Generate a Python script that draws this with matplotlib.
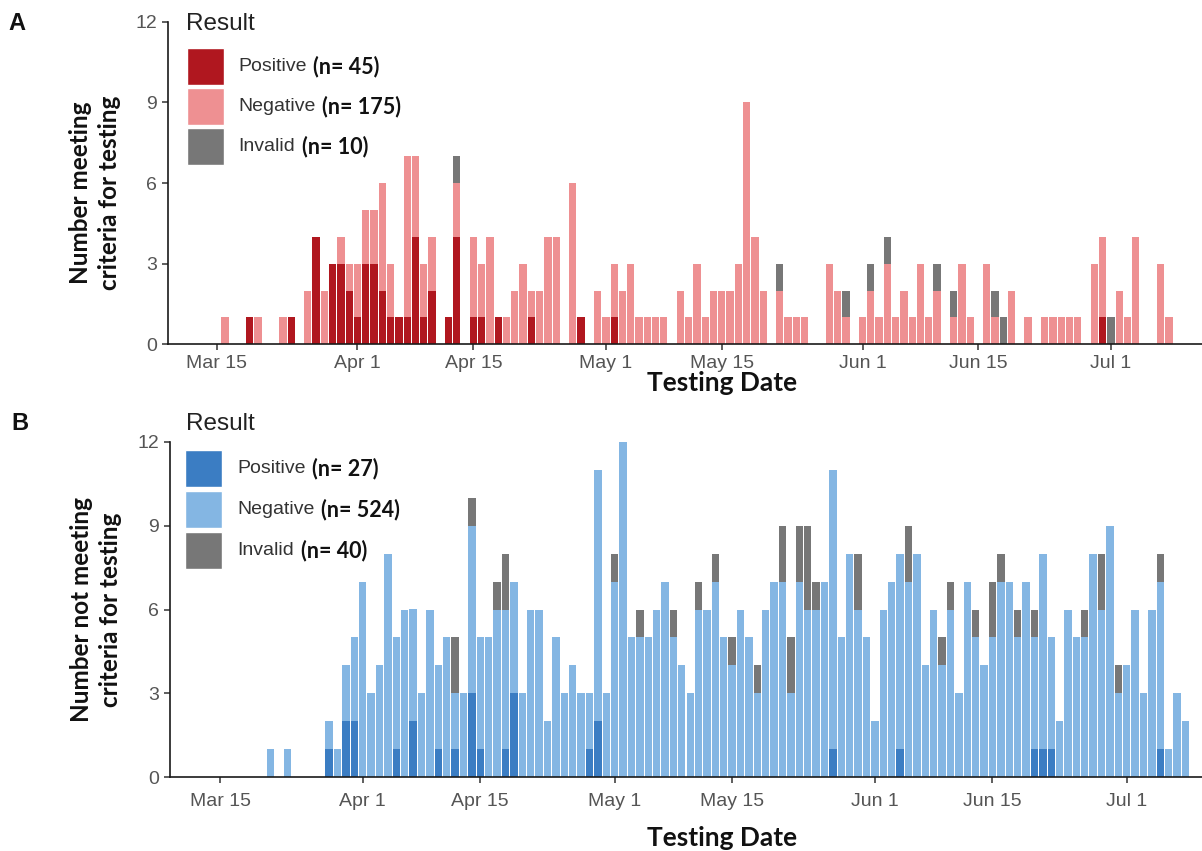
import numpy as np
import pandas as pd
import matplotlib
matplotlib.use("Agg")
import matplotlib.pyplot as plt
import matplotlib.dates as mdates
from matplotlib.patches import Rectangle

# ---------------------------------------------------------------------------
# Daily test results, 2020-03-15 .. 2020-07-08
# ---------------------------------------------------------------------------
YEAR = 2020
dates = pd.date_range(f"{YEAR}-03-15", f"{YEAR}-07-08", freq="D")

# Panel A: patients meeting criteria for testing
neg_a = [0, 1, 0, 0, 0, 1, 0, 0, 1, 0,      # Mar 15 -
         0, 2, 0, 2, 0, 1, 1, 2, 2, 2,      # Mar 25 -
         4, 2, 0, 6, 3, 2, 2, 0, 0, 2,      # Apr 4 -
         0, 3, 2, 4, 0, 1, 2, 3, 1, 2,      # Apr 14 -
         4, 4, 0, 6, 0, 0, 2, 1, 2, 2,      # Apr 24 -
         3, 1, 1, 1, 1, 0, 2, 1, 3, 1,      # May 4 -
         2, 2, 2, 3, 9, 4, 2, 0, 2, 1,      # May 14 -
         1, 1, 0, 0, 3, 2, 1, 0, 1, 2,      # May 24 -
         1, 3, 1, 2, 1, 3, 1, 2, 0, 1,      # Jun 3 -
         3, 1, 0, 3, 1, 0, 2, 0, 1, 0,      # Jun 13 -
         1, 1, 1, 1, 1, 0, 3, 3, 0, 2,      # Jun 23 -
         1, 4, 0, 0, 3, 1]                  # Jul 3 - Jul 8
pos_a = {"03-19": 1, "03-24": 1, "03-27": 4, "03-29": 3, "03-30": 3,
         "03-31": 2, "04-01": 1, "04-02": 3, "04-03": 3, "04-04": 2,
         "04-05": 1, "04-06": 1, "04-07": 1, "04-08": 4, "04-09": 1,
         "04-10": 2, "04-12": 1, "04-13": 4, "04-15": 1, "04-16": 1,
         "04-18": 1, "04-22": 1, "04-28": 1, "05-02": 1, "06-30": 1}
inv_a = {"04-13": 1, "05-22": 1, "05-30": 1, "06-02": 1, "06-04": 1,
         "06-10": 1, "06-12": 1, "06-17": 1, "06-18": 1, "07-01": 1}

# Panel B: patients not meeting criteria for testing
neg_b = [0, 0, 0, 0, 0, 0, 1, 0, 1, 0,      # Mar 15 -
         0, 0, 0, 1, 1, 2, 3, 7, 3, 4,      # Mar 25 -
         8, 4, 6, 4, 3, 6, 3, 5, 2, 3,      # Apr 4 -
         6, 4, 5, 6, 5, 4, 3, 6, 6, 2,      # Apr 14 -
         5, 3, 4, 3, 2, 9, 3, 7, 12, 5,     # Apr 24 -
         5, 5, 6, 7, 5, 4, 3, 6, 6, 7,      # May 4 -
         5, 4, 6, 5, 3, 6, 7, 7, 3, 7,      # May 14 -
         6, 6, 7, 10, 5, 8, 6, 5, 2, 6,     # May 24 -
         7, 7, 7, 8, 4, 6, 4, 6, 3, 7,      # Jun 3 -
         5, 4, 5, 7, 7, 5, 7, 4, 7, 4,      # Jun 13 -
         2, 6, 5, 5, 8, 6, 9, 3, 4, 6,      # Jun 23 -
         3, 6, 6, 1, 3, 2]                  # Jul 3 - Jul 8
pos_b = {"03-28": 1, "03-30": 2, "03-31": 2, "04-05": 1, "04-07": 2,
         "04-10": 1, "04-12": 1, "04-14": 3, "04-15": 1, "04-18": 1,
         "04-19": 3, "04-28": 1, "04-29": 2, "05-27": 1, "06-04": 1,
         "06-20": 1, "06-21": 1, "06-22": 1, "07-05": 1}
inv_b = {"04-12": 2, "04-14": 1, "04-17": 1, "04-18": 2, "05-01": 1,
         "05-04": 1, "05-08": 1, "05-11": 1, "05-13": 1, "05-15": 1,
         "05-18": 1, "05-21": 2, "05-22": 2, "05-23": 2, "05-24": 3,
         "05-25": 1, "05-30": 2, "06-05": 2, "06-09": 1, "06-10": 1,
         "06-13": 1, "06-15": 2, "06-16": 1, "06-18": 1, "06-20": 1,
         "06-26": 1, "06-28": 2, "06-30": 1, "07-05": 1}

tick_dates = ["03-15", "04-01", "04-15", "05-01", "05-15", "06-01", "06-15", "07-01"]
categories = ["Positive", "Negative", "Invalid"]

colors_a = ["#B0171F", "#EE9092", "#777777"]
colors_b = ["#3B7DC3", "#84B6E3", "#777777"]


def daily(sparse):
    s = pd.Series(0, index=dates)
    for md, v in sparse.items():
        s[pd.Timestamp(f"{YEAR}-{md}")] = v
    return s.to_numpy()


# ---------------------------------------------------------------------------
W, H = 1202, 851
fig = plt.figure(figsize=(W / 100, H / 100), dpi=100)

SANS = ["Liberation Sans", "DejaVu Sans"]
BOLD = ["Lato", "DejaVu Sans"]


def fx(x):
    return x / W


def fy(y):
    return 1 - y / H


xnum = mdates.date2num(dates)
d0 = mdates.date2num(pd.Timestamp(f"{YEAR}-03-15"))


def draw_panel(rect, xlim_days, pos, neg, inv, colors, xpad):
    ax = fig.add_axes(rect)
    p = np.asarray(pos)
    n = np.asarray(neg)
    i = np.asarray(inv)
    ax.bar(xnum, p, width=0.88, color=colors[0], linewidth=0)
    ax.bar(xnum, n, bottom=p, width=0.88, color=colors[1], linewidth=0)
    ax.bar(xnum, i, bottom=p + n, width=0.88, color=colors[2], linewidth=0)
    ax.set_xlim(d0 + xlim_days[0], d0 + xlim_days[1])
    ax.set_ylim(0, 12)
    ax.set_yticks([0, 3, 6, 9, 12])
    tds = [pd.Timestamp(f"{YEAR}-{t}") for t in tick_dates]
    ax.set_xticks(mdates.date2num(tds))
    ax.set_xticklabels([f"{t:%b} {t.day}" for t in tds])
    for s in ("top", "right"):
        ax.spines[s].set_visible(False)
    for s in ("left", "bottom"):
        ax.spines[s].set_linewidth(1.2)
        ax.spines[s].set_color("#1a1a1a")
    ax.tick_params(length=4, width=1.1, color="#333333", labelsize=14,
                   labelcolor="#555555", pad=4)
    ax.tick_params(axis="x", pad=xpad)
    for lab in ax.get_xticklabels() + ax.get_yticklabels():
        lab.set_family(SANS)
    return ax


ax_a = draw_panel([fx(168.3), fy(344.3), 1 - fx(168.3), (344.3 - 21.7) / H],
                  (-5.85, 119.0), daily(pos_a), neg_a, daily(inv_a), colors_a, 4)
ax_b = draw_panel([fx(170), fy(777.3), 1 - fx(170), (777.3 - 441.7) / H],
                  (-5.96, 116.96), daily(pos_b), neg_b, daily(inv_b), colors_b, 7)

# panel letters
fig.text(fx(8), fy(23), "A", fontsize=17, fontweight="bold", family=SANS,
         ha="left", va="center", color="#111111")
fig.text(fx(11), fy(424), "B", fontsize=17, fontweight="bold", family=SANS,
         ha="left", va="center", color="#111111")

# axis titles
for yc in (383, 838):
    fig.text(fx(722), fy(yc), "Testing Date", fontsize=19, fontweight="bold",
             family=BOLD, ha="center", va="center", color="#111111")
fig.text(fx(95), fy(193), "Number meeting\ncriteria for testing", rotation=90,
         fontsize=17.5, fontweight="bold", family=BOLD, ha="center", va="center",
         multialignment="center", linespacing=1.35, color="#111111")
fig.text(fx(96), fy(610), "Number not meeting\ncriteria for testing", rotation=90,
         fontsize=17.5, fontweight="bold", family=BOLD, ha="center", va="center",
         multialignment="center", linespacing=1.35, color="#111111")


# legends
def legend(ax, x_title, y_title, x_key, y_keys, x_lab, colors, series):
    fig.text(fx(x_title), fy(y_title), "Result", fontsize=17.5, family=SANS,
             ha="left", va="center", color="#222222")
    for name, yk, c, vals in zip(categories, y_keys, colors, series):
        fig.add_artist(Rectangle((fx(x_key), fy(yk + 37)), 37 / W, 37 / H,
                                 transform=fig.transFigure, facecolor=c,
                                 edgecolor="white", linewidth=1))
        t = fig.text(fx(x_lab), fy(yk + 18.5), name, fontsize=14, family=SANS,
                     ha="left", va="center", color="#333333")
        ax.annotate(f"(n= {int(np.sum(vals))})", xy=(1, 0.5), xycoords=t,
                    xytext=(5, 0), textcoords="offset points", ha="left",
                    va="center", fontsize=15.5, fontweight="bold",
                    family=BOLD, color="#111111", annotation_clip=False)


legend(ax_a, 186, 24, 187, [48, 88, 128], 238, colors_a,
       [daily(pos_a), neg_a, daily(inv_a)])
legend(ax_b, 186, 424, 185, [450, 491, 532], 237, colors_b,
       [daily(pos_b), neg_b, daily(inv_b)])

fig.savefig("out.png", dpi=100)
